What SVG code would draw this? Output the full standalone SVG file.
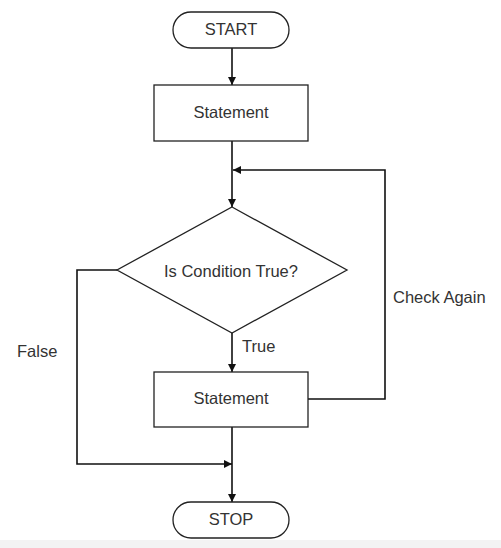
<svg xmlns="http://www.w3.org/2000/svg" width="501" height="548" viewBox="0 0 501 548">
<style>
.s{fill:#fff;stroke:#222;stroke-width:1.3}
.c{fill:none;stroke:#111;stroke-width:1.6}
.t{font-family:"Liberation Sans",Arial,sans-serif;font-size:16.5px;fill:#333}
.m{text-anchor:middle}
</style>
<defs>
<marker id="a" viewBox="0 0 10 10" refX="10" refY="5" markerWidth="8" markerHeight="8" markerUnits="userSpaceOnUse" orient="auto">
<path d="M0,0L10,5L0,10z" fill="#111"/>
</marker>
</defs>
<rect width="501" height="548" fill="#fff"/>
<rect y="540" width="501" height="8" fill="#f3f3f3"/>
<g id="connectors">
<path class="c" d="M232,48V85" marker-end="url(#a)"/>
<path class="c" d="M232,141V207" marker-end="url(#a)"/>
<path class="c" d="M232,333V372" marker-end="url(#a)"/>
<path class="c" d="M308,399H385V170H233" marker-end="url(#a)"/>
<path class="c" d="M117,270H77V464H232" marker-end="url(#a)"/>
<path class="c" d="M232,427V502" marker-end="url(#a)"/>
</g>
<g id="start">
<rect class="s" x="173" y="12" width="116" height="36" rx="18"/>
<text class="t m" x="231" y="35">START</text>
</g>
<g id="statement1">
<rect class="s" x="154" y="85" width="154" height="56"/>
<text class="t m" x="231" y="118">Statement</text>
</g>
<g id="decision">
<path class="s" d="M232,207L347,270L232,333L117,270Z"/>
<text class="t m" x="231" y="277">Is Condition True?</text>
</g>
<g id="statement2">
<rect class="s" x="154" y="372" width="154" height="55"/>
<text class="t m" x="231" y="404">Statement</text>
</g>
<g id="stop">
<rect class="s" x="173" y="502" width="116" height="36" rx="18"/>
<text class="t m" x="231" y="525">STOP</text>
</g>
<text class="t" x="242" y="352">True</text>
<text class="t" x="393" y="303">Check Again</text>
<text class="t" x="17" y="357">False</text>
</svg>
